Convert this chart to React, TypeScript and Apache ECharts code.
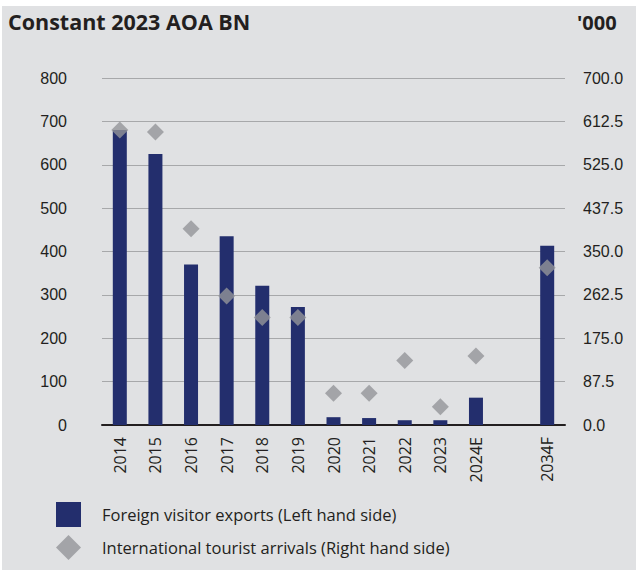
import React, { useEffect, useRef } from "react";
import * as echarts from "echarts";

const categories = ["2014", "2015", "2016", "2017", "2018", "2019", "2020", "2021", "2022", "2023", "2024E", "", "2034F"];
const exportsBn = [680, 625, 370, 435, 321, 272, 18, 16, 11, 11, 63, null, 413];
const arrivals = [595, 591, 396, 260, 217, 217, 64, 64, 130, 37, 139, null, 317];
const leftTicks = { min: 0, max: 800, interval: 100 };
const rightTicks = { min: 0, max: 700, interval: 87.5 };

const NAVY = "#232e6d";
const GREY = "#939598";
const TEXT = "#231f20";
const HUMANIST = "'Open Sans', Lato, sans-serif";
const ARIAL = "'Liberation Sans', Arial, sans-serif";

export default function App() {
  const ref = useRef<HTMLDivElement>(null);
  useEffect(() => {
    if (!ref.current) return;
    const chart = echarts.init(ref.current, undefined, { renderer: "svg" });
    chart.setOption({
      animation: false,
      backgroundColor: "#ffffff",
      graphic: [
        { type: "rect", z: -10, shape: { x: 2, y: 6, width: 634, height: 564 }, style: { fill: "#e0e1e3" } },
        { type: "text", left: 8, top: 10, style: { text: "Constant 2023 AOA BN", fontSize: 21.5, fontWeight: "bold", fontFamily: HUMANIST, fill: TEXT } },
        { type: "text", left: 577, top: 12, style: { text: "'000", fontSize: 20, fontWeight: "bold", fontFamily: HUMANIST, fill: TEXT } },
      ],
      grid: { left: 102, right: 71, top: 78, bottom: 147, containLabel: false },
      legend: {
        orient: "vertical",
        left: 56,
        top: 502,
        padding: 0,
        itemWidth: 25,
        itemHeight: 25,
        itemGap: 8,
        textStyle: { fontSize: 16.5, color: TEXT, fontFamily: HUMANIST, padding: [0, 0, 0, 16] },
        data: [
          { name: "Foreign visitor exports (Left hand side)", icon: "rect" },
          { name: "International tourist arrivals (Right hand side)", icon: "diamond" },
        ],
      },
      xAxis: {
        type: "category",
        data: categories,
        axisLine: { lineStyle: { color: "#231f20", width: 2 } },
        axisTick: { show: false },
        axisLabel: { rotate: 90, interval: 0, fontSize: 16, color: TEXT, fontFamily: HUMANIST, margin: 12 },
      },
      yAxis: [
        {
          type: "value",
          ...leftTicks,
          axisLine: { show: false },
          axisTick: { show: false },
          splitLine: { lineStyle: { color: "#a7a8aa", width: 1 } },
          axisLabel: { fontSize: 16, color: TEXT, fontFamily: ARIAL, margin: 35 },
        },
        {
          type: "value",
          ...rightTicks,
          position: "right",
          axisLine: { show: false },
          axisTick: { show: false },
          splitLine: { show: false },
          axisLabel: { fontSize: 16, color: TEXT, fontFamily: ARIAL, margin: 18, formatter: (v: number) => v.toFixed(1) },
        },
      ],
      series: [
        {
          name: "Foreign visitor exports (Left hand side)",
          type: "bar",
          data: exportsBn,
          barWidth: 14,
          yAxisIndex: 0,
          itemStyle: { color: NAVY },
        },
        {
          name: "International tourist arrivals (Right hand side)",
          type: "scatter",
          data: arrivals,
          yAxisIndex: 1,
          symbol: "diamond",
          symbolSize: 17,
          itemStyle: { color: GREY },
          z: 5,
        },
      ],
    });
    return () => chart.dispose();
  }, []);
  return <div ref={ref} style={{ position: "fixed", left: 0, top: 0, width: 636, height: 572 }} />;
}
